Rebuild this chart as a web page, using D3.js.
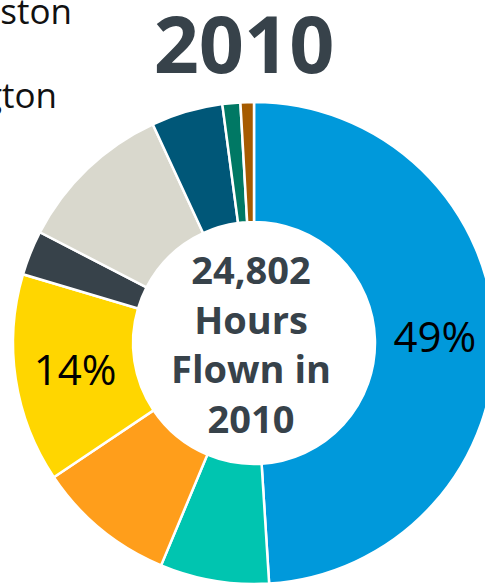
<!DOCTYPE html>
<html>
<head>
<meta charset="utf-8">
<script src="https://cdn.jsdelivr.net/npm/d3@7"></script>
<style>
  html, body { margin: 0; padding: 0; background: #fff; }
  svg { display: block; font-family: "Open Sans", "Noto Sans", sans-serif; }
</style>
</head>
<body>
<svg id="chart" width="485" height="583"></svg>
<script>
// Share of flight hours in 2010, by segment (percent of total)
const categories = ["Seg A", "Seg B", "Seg C", "Seg D", "Seg E", "Seg F", "Seg G", "Seg H", "Seg I"];
const shares     = [49, 7.3, 9.3, 14, 3.0, 10.5, 4.8, 1.2, 0.9];
const colors     = ["#0099db", "#00c5b0", "#ff9e1b", "#ffd600", "#37424a", "#d9d8cd", "#005778", "#007864", "#a65b00"];
const legendLabels = ["Houston", "Washington"];
const centerLines  = ["24,802", "Hours", "Flown in", "2010"];
const title = "2010";

const svg = d3.select("#chart");
const cx = 254, cy = 343, outerR = 241, innerR = 121;

// legend text (runs past the left edge of the view)
svg.append("g")
  .selectAll("text")
  .data(legendLabels)
  .join("text")
  .attr("x", (d, i) => i === 0 ? 72 : 57)
  .attr("y", (d, i) => 24 + i * 84)
  .attr("text-anchor", "end")
  .attr("font-size", 35)
  .attr("fill", "#111")
  .text(d => d);

// title
svg.append("text")
  .attr("x", 244)
  .attr("y", 73)
  .attr("text-anchor", "middle")
  .attr("font-size", 79)
  .attr("font-weight", 700)
  .attr("fill", "#37424a")
  .text(title);

const pie = d3.pie().sort(null).value(d => d.v);
const arc = d3.arc().innerRadius(innerR).outerRadius(outerR);
const data = categories.map((c, i) => ({ c, v: shares[i], color: colors[i] }));
const arcs = pie(data);

const g = svg.append("g").attr("transform", `translate(${cx},${cy})`);

g.selectAll("path")
  .data(arcs)
  .join("path")
  .attr("d", arc)
  .attr("fill", d => d.data.color)
  .attr("stroke", "#fff")
  .attr("stroke-width", 2.5)
  .attr("stroke-linejoin", "miter");

// percentage labels on the larger slices
g.selectAll("text.pct")
  .data(arcs.filter(d => d.data.v >= 12))
  .join("text")
  .attr("class", "pct")
  .attr("transform", d => {
    const [x, y] = arc.centroid(d);
    return `translate(${x},${y})`;
  })
  .attr("text-anchor", "middle")
  .attr("dy", "0.36em")
  .attr("font-size", 42)
  .attr("font-weight", 400)
  .attr("fill", "#000")
  .text(d => d3.format(".0f")(d.data.v) + "%");

// centre text
g.append("g")
  .selectAll("text")
  .data(centerLines)
  .join("text")
  .attr("x", -3)
  .attr("y", (d, i) => -59 + i * 49.5)
  .attr("text-anchor", "middle")
  .attr("font-size", 38)
  .attr("font-weight", 700)
  .attr("fill", "#37424a")
  .text(d => d);
</script>
</body>
</html>
